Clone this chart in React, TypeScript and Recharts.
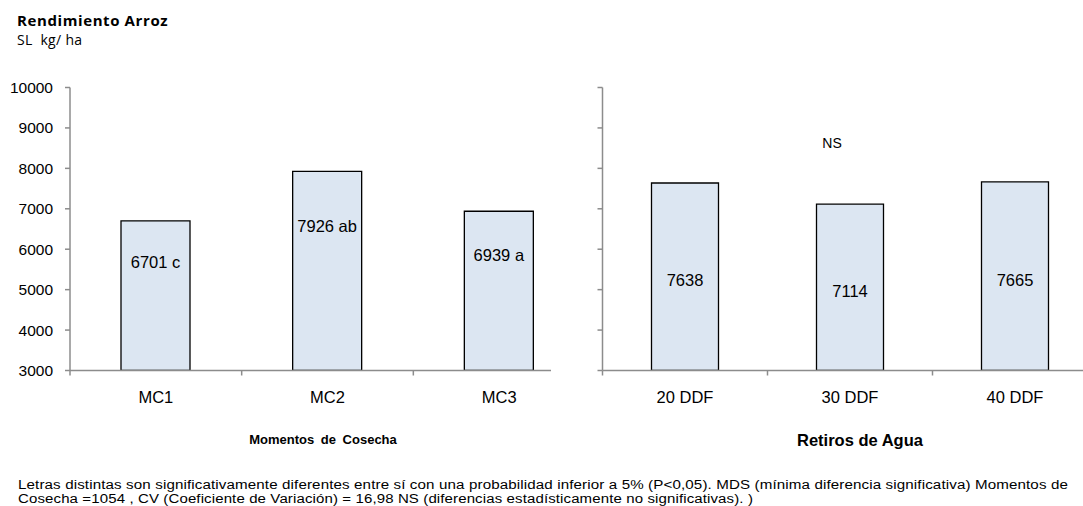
import React from 'react';
import { BarChart, Bar, XAxis, YAxis, LabelList } from 'recharts';

const categoriesLeft = ['MC1', 'MC2', 'MC3'];
const valuesLeft = [6701, 7926, 6939];
const lettersLeft = ['c', 'ab', 'a'];

const categoriesRight = ['20 DDF', '30 DDF', '40 DDF'];
const valuesRight = [7638, 7114, 7665];
const lettersRight = ['', '', ''];

const yTicks = [3000, 4000, 5000, 6000, 7000, 8000, 9000, 10000];

const leftData = categoriesLeft.map((name, i) => ({
  name,
  value: valuesLeft[i],
  label: `${valuesLeft[i]} ${lettersLeft[i]}`.trim(),
}));
const rightData = categoriesRight.map((name, i) => ({
  name,
  value: valuesRight[i],
  label: `${valuesRight[i]} ${lettersRight[i]}`.trim(),
}));

const AXIS = '#8c8c8c';
const FONT = '"Liberation Sans", Arial, sans-serif';

const makeTick = (bw: number) => (props: any) => {
  const { x, y, payload } = props;
  return (
    <g>
      <line x1={x - bw / 2} y1={y} x2={x - bw / 2} y2={y + 5} stroke={AXIS} strokeWidth={1.5} />
      <text x={x} y={y + 26} textAnchor="middle" dominantBaseline="central" fontSize={16.5} fontFamily={FONT} fill="#000">
        {payload.value}
      </text>
    </g>
  );
};

const makeLabel = (frac: number) => (props: any) => {
  const { x, y, width, height, value } = props;
  return (
    <text x={x + width / 2} y={y + height * frac} textAnchor="middle" dominantBaseline="central" fontSize={16.5} fontFamily={FONT} fill="#000">
      {value}
    </text>
  );
};

const EmptyTick = () => <g />;

type PanelProps = {
  data: any[];
  width: number;
  yAxisWidth: number;
  marginRight: number;
  showYLabels: boolean;
  barSize: number;
  labelFrac: number;
};

const H = 506;
const TOP = 87.5;
const BOTTOM_Y = 370.5;
const XAXIS_H = 30;

function Panel({ data, width, yAxisWidth, marginRight, showYLabels, barSize, labelFrac }: PanelProps) {
  const plotW = width - yAxisWidth - marginRight;
  const bw = plotW / data.length;
  return (
    <BarChart
      width={width}
      height={H}
      data={data}
      margin={{ top: TOP, right: marginRight, left: 0, bottom: H - BOTTOM_Y - XAXIS_H }}
    >
      <XAxis
        dataKey="name"
        height={XAXIS_H}
        tickSize={0}
        tickMargin={0}
        tickLine={false}
        axisLine={{ stroke: AXIS, strokeWidth: 1.5 }}
        tick={makeTick(bw)}
        interval={0}
      />
      <YAxis
        width={yAxisWidth}
        domain={[3000, 10000]}
        ticks={yTicks}
        allowDataOverflow
        interval={0}
        tickSize={5}
        tickMargin={12}
        axisLine={{ stroke: AXIS, strokeWidth: 1.5 }}
        tickLine={{ stroke: AXIS, strokeWidth: 1.5 }}
        tick={showYLabels ? { fill: '#000', fontSize: 15.5, fontFamily: FONT } : EmptyTick}
      />
      <Bar dataKey="value" fill="#dce6f2" stroke="#000" strokeWidth={1.3} barSize={barSize} isAnimationActive={false}>
        <LabelList dataKey="label" content={makeLabel(labelFrac)} />
      </Bar>
    </BarChart>
  );
}

const NOTE_FONT = '"Liberation Sans", Arial, sans-serif';

export default function App() {
  return (
    <div style={{ position: 'absolute', left: 0, top: 0, width: 1083, height: 506, overflow: 'hidden', background: '#fff' }}>
      <div style={{ position: 'absolute', left: 0, top: 0, width: 551, height: 506, overflow: 'hidden' }}>
        <Panel data={leftData} width={600} yAxisWidth={70} marginRight={15} showYLabels barSize={69} labelFrac={0.275} />
      </div>
      <div style={{ position: 'absolute', left: 551, top: 0, width: 532, height: 506, overflow: 'hidden' }}>
        <Panel data={rightData} width={546.5} yAxisWidth={51.5} marginRight={0} showYLabels={false} barSize={67} labelFrac={0.52} />
      </div>
      <svg width={1083} height={506} style={{ position: 'absolute', left: 0, top: 0, pointerEvents: 'none' }}>
        <text x={17} y={26} fontSize={15} fontWeight="bold" fontFamily='"Open Sans", sans-serif' letterSpacing={0.6} fill="#000">Rendimiento Arroz</text>
        <text x={17} y={45} fontSize={14} fontFamily='"Open Sans", sans-serif' letterSpacing={0.3} fill="#000" style={{ whiteSpace: 'pre' }}>{'SL\u00a0 kg/ ha'}</text>
        <text x={832} y={143} textAnchor="middle" dominantBaseline="central" fontSize={14} fontFamily={FONT} fill="#000">NS</text>
        <text x={323} y={439} textAnchor="middle" dominantBaseline="central" fontSize={13} fontWeight="bold" fontFamily={FONT} wordSpacing={3} fill="#000">Momentos de Cosecha</text>
        <text x={860} y={440} textAnchor="middle" dominantBaseline="central" fontSize={16.5} fontWeight="bold" fontFamily={FONT} fill="#000">Retiros de Agua</text>
        <text x={18} y={485} dominantBaseline="central" fontSize={12.5} fontFamily={NOTE_FONT} letterSpacing={0.1} textLength={1050} lengthAdjust="spacingAndGlyphs" fill="#000">
          Letras distintas son significativamente diferentes entre sí con una probabilidad inferior a 5% (P&lt;0,05). MDS (mínima diferencia significativa) Momentos de
        </text>
        <text x={18} y={499} dominantBaseline="central" fontSize={12.5} fontFamily={NOTE_FONT} letterSpacing={0.1} textLength={735} lengthAdjust="spacingAndGlyphs" fill="#000">
          Cosecha =1054 , CV (Coeficiente de Variación) = 16,98  NS (diferencias estadísticamente no significativas). )
        </text>
      </svg>
    </div>
  );
}
